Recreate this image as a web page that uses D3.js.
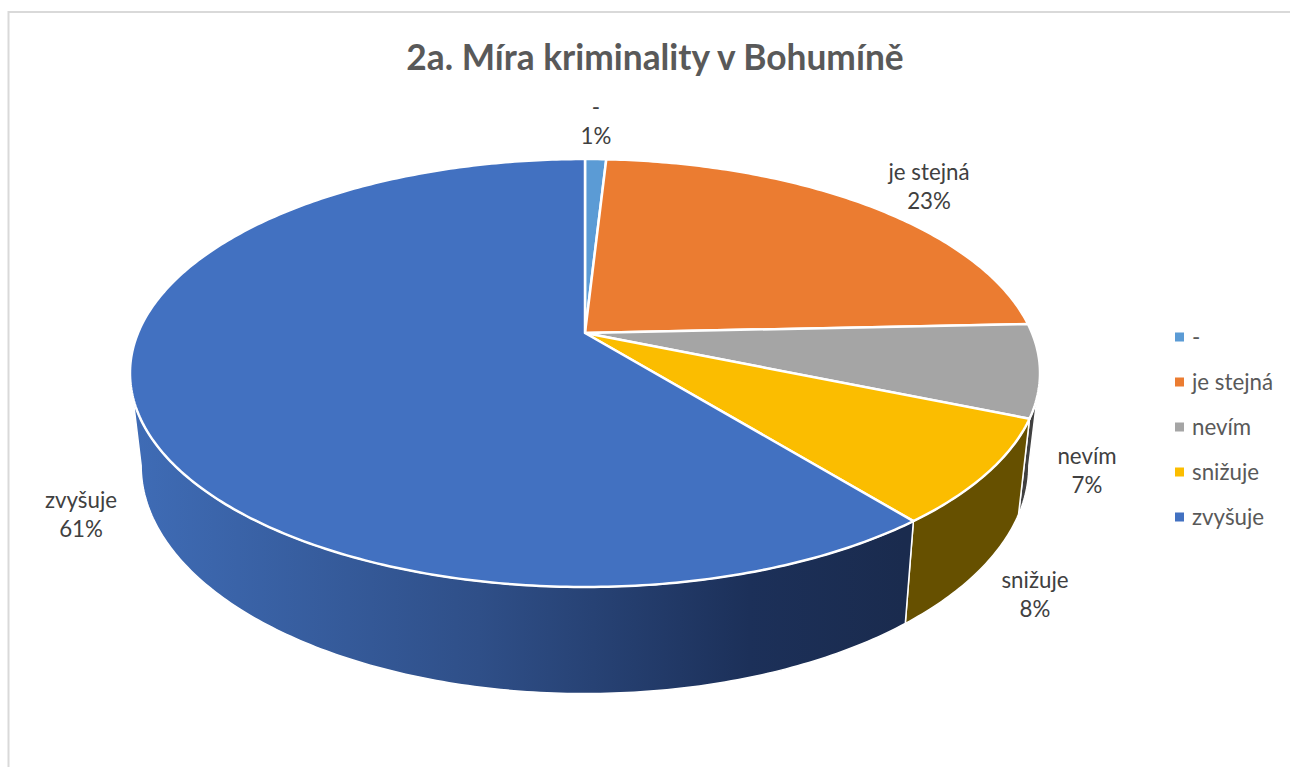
<!DOCTYPE html>
<html>
<head>
<meta charset="utf-8">
<script src="https://cdn.jsdelivr.net/npm/d3@7"></script>
<style>
  html, body { margin: 0; padding: 0; background: #fff; overflow: hidden; }
  svg { display: block; }
  text { font-family: Lato, 'Open Sans', sans-serif; }
</style>
</head>
<body>
<div id="d3-container"></div>
<script>
const title = '2a. Míra kriminality v Bohumíně'
const categories = ['-', 'je stejná', 'nevím', 'snižuje', 'zvyšuje']
const shares = [0.9, 23.4, 7.0, 7.9, 60.8]
const topColors = ['#5B9BD5', '#EB7C31', '#A5A5A5', '#FBBD00', '#4271C1']
const sideColors = ['#2f5f8c', '#8a4a1c', '#404040', '#665000', 'url(#blueSide)']

const params = { width: 1290, height: 767 }

// the pie is a tilted disc, so its rim is a perspective circle and not a plain ellipse
const topPlane = { x: 585, y: 333, w: 447, h: 206.5, k: 0.187 }
const bottomPlane = { x: 585, y: 423, w: 436, h: 220, k: 0.187 }

// angle where the rim turns away from the viewer, walls stop there
const turnAngle = Math.acos(-topPlane.k)

// label centres, one per category
const labelPos = [[596, 107], [929, 172], [1087, 456], [1035, 580], [81, 500]]

const legendX = 1175
const legendY = d3.scaleLinear().domain([0, 4]).range([337, 517])

function project(plane, angle) {
  const u = Math.sin(angle)
  const v = Math.cos(angle)
  const d = 1 + plane.k * v
  return [plane.x + (plane.w * u) / d, plane.y - (plane.h * v) / d]
}

function arcPoints(plane, a0, a1) {
  const n = Math.max(2, Math.ceil((a1 - a0) * 80))
  const t = d3.scaleLinear().domain([0, n]).range([a0, a1])
  return d3.range(n + 1).map(i => project(plane, t(i)))
}

const line = d3.line()

const svg = d3
  .select('#d3-container')
  .append('svg')
  .attr('width', params.width)
  .attr('height', params.height)
  .attr('viewBox', [0, 0, params.width, params.height])

// chart frame, open to the right and bottom
svg
  .append('path')
  .attr('d', line([[8.5, params.height], [8.5, 12], [params.width, 12]]))
  .attr('fill', 'none')
  .attr('stroke', '#d9d9d9')
  .attr('stroke-width', 2)

const grad = svg
  .append('defs')
  .append('linearGradient')
  .attr('id', 'blueSide')
  .attr('gradientUnits', 'userSpaceOnUse')
  .attr('x1', 130)
  .attr('x2', 905)
  .attr('y1', 0)
  .attr('y2', 0)
grad.append('stop').attr('offset', '0%').attr('stop-color', '#3f6cb6')
grad.append('stop').attr('offset', '45%').attr('stop-color', '#2f4f88')
grad.append('stop').attr('offset', '80%').attr('stop-color', '#1c3059')
grad.append('stop').attr('offset', '100%').attr('stop-color', '#1a2b4e')

const slices = d3.pie().sort(null).value(d => d)(shares)

// only the front facing part of each slice has a wall
const walls = slices
  .map((d, i) => ({
    index: i,
    a0: Math.max(d.startAngle, turnAngle),
    a1: Math.min(d.endAngle, 2 * Math.PI - turnAngle),
  }))
  .filter(d => d.a0 < d.a1)

svg
  .append('g')
  .selectAll('path')
  .data(walls)
  .join('path')
  .attr('d', d => {
    const upper = arcPoints(topPlane, d.a0, d.a1)
    const lower = arcPoints(bottomPlane, d.a0, d.a1).reverse()
    return line(upper.concat(lower)) + 'Z'
  })
  .attr('fill', d => sideColors[d.index])
  .attr('stroke', '#fff')
  .attr('stroke-width', 1.5)
  .attr('stroke-linejoin', 'round')

svg
  .append('g')
  .selectAll('path')
  .data(slices)
  .join('path')
  .attr('d', d => {
    const rim = arcPoints(topPlane, d.startAngle, d.endAngle)
    return line([[topPlane.x, topPlane.y]].concat(rim)) + 'Z'
  })
  .attr('fill', (d, i) => topColors[i])
  .attr('stroke', '#fff')
  .attr('stroke-width', 2.5)
  .attr('stroke-linejoin', 'round')

svg
  .append('text')
  .attr('x', 655)
  .attr('y', 70)
  .attr('text-anchor', 'middle')
  .attr('font-size', 35.3)
  .attr('font-weight', 700)
  .attr('fill', '#595959')
  .text(title)

const labels = svg
  .append('g')
  .selectAll('g')
  .data(slices)
  .join('g')
  .attr('transform', (d, i) => `translate(${labelPos[i]})`)
  .attr('text-anchor', 'middle')
  .attr('font-size', 22.3)
  .attr('fill', '#404040')

labels
  .append('text')
  .attr('y', 8)
  .text((d, i) => categories[i])

labels
  .append('text')
  .attr('y', 37)
  .text(d => Math.round(d.data) + '%')

const legend = svg
  .append('g')
  .selectAll('g')
  .data(categories)
  .join('g')
  .attr('transform', (d, i) => `translate(${legendX}, ${legendY(i)})`)

legend
  .append('rect')
  .attr('x', 0)
  .attr('y', -4.5)
  .attr('width', 9)
  .attr('height', 9)
  .attr('fill', (d, i) => topColors[i])

legend
  .append('text')
  .attr('x', 17)
  .attr('y', 8)
  .attr('font-size', 22.3)
  .attr('fill', '#595959')
  .text(d => d)
</script>
</body>
</html>
